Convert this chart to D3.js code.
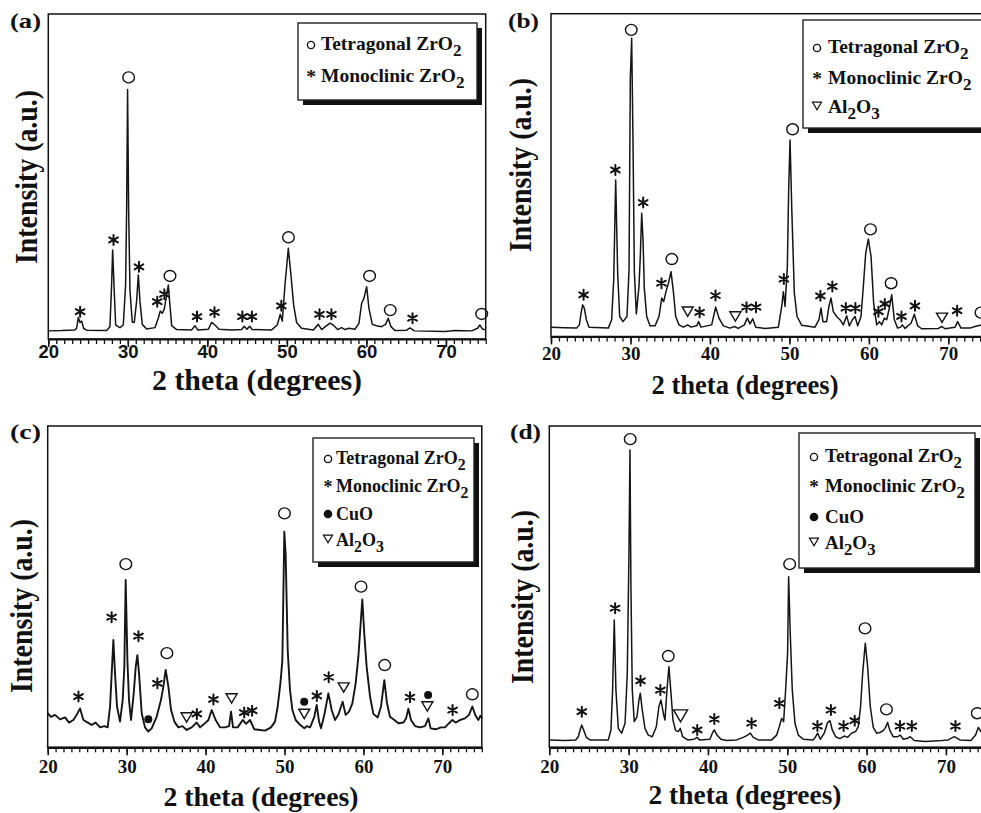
<!DOCTYPE html>
<html>
<head>
<meta charset="utf-8">
<script src="https://cdn.jsdelivr.net/npm/d3@7"></script>
<style>
  body { margin: 0; background: #fff; }
  svg { display: block; overflow: hidden; }
  text { font-family: "Liberation Serif", "Times New Roman", serif; font-weight: bold; fill: #111; }
</style>
</head>
<body>
<div id="chart"></div>
<script>
// x ticks (2 theta, degrees)
var majorTicks = [20, 30, 40, 50, 60, 70];
var minorTicks = [20,21,22,23,24,25,26,27,28,29,30,31,32,33,34,35,36,37,38,39,40,41,42,43,44,45,
                  46,47,48,49,50,51,52,53,54,55,56,57,58,59,60,61,62,63,64,65,66,67,68,69,70,71,72,73,74,75];

// patterns: [2theta, intensity (% of plot height)]
var curveA = [[20.0,2.5],[21.7,2.6],[23.35,2.8],[23.56,3.3],[23.77,6.6],[23.98,5.1],[24.19,5.5],[24.44,3.3],[24.82,2.7],
  [27.33,2.6],[27.75,3.8],[27.96,16.6],[28.09,27.4],[28.26,16.6],[28.47,4.3],[29.01,3.5],[29.43,4.3],[29.72,16.6],
  [29.85,40],[29.97,76.8],[30.1,40],[30.27,15],[30.56,5.2],[30.81,5.1],[31.1,11.5],[31.32,19.7],[31.53,11.5],[31.82,4.5],
  [32.36,3.1],[33.41,3.5],[33.83,6.4],[34.08,8.6],[34.33,7.9],[34.58,9.2],[34.88,13.5],[35.09,16.6],[35.26,11.5],[35.51,4.1],
  [36.14,2.9],[38.02,2.8],[38.44,4.1],[38.78,2.8],[40.12,3.0],[40.54,5.1],[40.96,4.3],[41.46,3.0],[43.05,2.8],[44.31,2.9],
  [44.64,3.9],[44.98,3.0],[45.31,3.9],[45.65,2.9],[48.08,2.8],[48.79,4.3],[49.17,7.6],[49.42,5.5],[49.76,16.6],[50.18,27.9],
  [50.51,19.7],[50.85,10.5],[51.22,5.1],[51.85,3.3],[53.32,2.8],[53.95,4.5],[54.37,2.9],[55.0,4.1],[55.42,4.9],[55.83,4.3],
  [56.38,2.9],[56.88,3.5],[57.3,2.9],[57.8,3.3],[58.55,3.0],[59.06,4.8],[59.4,11],[59.69,12.5],[60.03,16.1],[60.32,9.4],
  [60.74,4.5],[61.28,4.1],[61.91,3.8],[62.41,4.5],[62.75,6.4],[63.09,3.8],[63.59,2.6],[65.06,2.7],[65.48,3.4],[66.03,2.5],
  [69.9,2.3],[71.13,2.6],[73.23,2.5],[73.98,3.3],[74.27,4.3],[74.57,3.1],[75.0,2.8]];

var curveB = [[20.0,2.9],[21.76,2.7],[23.23,2.6],[23.57,3.6],[23.78,7.2],[23.98,9.8],[24.19,8.8],[24.45,5.2],[24.78,2.9],
  [27.21,2.6],[27.63,5.2],[27.89,17.5],[28.14,48.5],[28.39,19.6],[28.64,6.2],[29.06,4.6],[29.56,6.2],[29.82,20.6],
  [29.98,80],[30.15,92.4],[30.32,60],[30.49,20],[30.74,7],[31.07,15.5],[31.24,25],[31.41,38.2],[31.58,30],[31.74,15],
  [32.04,6.2],[32.46,3.3],[33.09,3.3],[33.59,6.2],[33.93,11.9],[34.18,10.8],[34.47,13.9],[34.77,16.5],[35.1,20.1],
  [35.4,13.9],[35.69,6.2],[36.11,3.6],[36.65,2.9],[37.2,3.6],[37.62,2.9],[38.33,3.3],[38.58,4.6],[38.88,2.9],[40.22,3.6],
  [40.72,9.1],[41.14,5.7],[41.69,3.3],[42.53,2.6],[43.07,3.1],[43.57,2.5],[44.33,3.6],[44.71,5.7],[45.04,3.9],[45.38,5.5],
  [45.76,2.9],[46.93,2.5],[48.61,2.9],[49.03,9.3],[49.24,13.9],[49.45,9.3],[49.74,21.7],[49.9,45],[50.08,60.9],[50.29,40],
  [50.62,13.4],[50.96,6.2],[51.54,3.5],[53.22,2.9],[53.72,5.2],[53.97,8.8],[54.22,4.6],[54.68,4.6],[54.97,9.3],[55.23,11.9],
  [55.52,7.7],[55.94,6.2],[56.36,5.2],[56.78,3.6],[57.21,6.4],[57.54,3.3],[57.92,5.2],[58.26,6.2],[58.59,3.3],[59.01,6.2],
  [59.3,15.5],[59.6,25.8],[59.93,30.2],[60.27,24.8],[60.6,10.3],[60.98,3.6],[61.32,4.6],[61.61,3.6],[61.95,5.7],[62.24,5.2],
  [62.53,8.3],[62.87,12.9],[63.2,5.2],[63.62,2.6],[64.0,2.9],[64.21,3.6],[64.55,2.5],[65.3,4.1],[65.72,6.9],[66.14,3.3],
  [66.64,2.4],[68.74,2.5],[69.16,3.1],[69.58,2.4],[70.84,2.9],[71.17,4.6],[71.59,2.6],[72.72,2.6],[73.36,3.1],[73.99,3.5],
  [75.0,3.9]];

var curveC = [[20.0,10.6],[20.42,9.5],[20.93,10.1],[21.56,8.7],[22.2,9.3],[22.7,7.7],[23.25,8.5],[23.67,10.1],[24.1,12.1],
  [24.52,8.5],[25.07,7.7],[25.57,7.0],[26.08,7.7],[26.63,6.2],[27.18,6.6],[27.6,6.2],[27.9,12.7],[28.11,23],[28.32,33.4],
  [28.53,23],[28.78,12.7],[29.16,8.0],[29.5,14.7],[29.71,25],[29.88,52.1],[30.1,27],[30.3,14.7],[30.56,8.5],[30.9,16.8],
  [31.15,25],[31.36,28.7],[31.57,23],[31.91,10.6],[32.33,6.2],[32.75,4.9],[33.17,5.9],[33.8,9.5],[34.35,14.7],[34.65,18.9],
  [34.95,24.1],[35.29,18.9],[35.63,11.6],[36.05,8.0],[36.55,6.2],[37.06,6.6],[37.61,5.4],[38.24,6.2],[38.88,7.7],[39.3,6.2],
  [39.85,7.3],[40.36,8.5],[40.78,11.6],[41.28,8.5],[41.84,6.2],[42.47,6.2],[42.98,6.6],[43.23,11.1],[43.48,6.2],[44.07,6.2],
  [44.71,8.5],[45.13,7.3],[45.63,8.5],[46.18,5.6],[46.9,5.4],[47.53,5.2],[48.29,6.2],[48.8,8.0],[49.14,12.7],[49.48,19.9],
  [49.73,27],[49.98,67.1],[50.15,60],[50.41,30],[50.7,17.8],[51.0,11.6],[51.42,8.5],[51.97,7.0],[52.52,5.9],[52.81,6.6],
  [53.24,6.2],[53.78,9.5],[54.08,13.2],[54.38,8.0],[54.63,5.9],[55.05,10.1],[55.56,16.8],[55.98,11.6],[56.4,8.5],[56.82,10.1],
  [57.37,14.2],[57.75,10.1],[58.18,11.1],[58.6,13.7],[59.02,19.9],[59.36,28.2],[59.86,46],[60.12,35],[60.41,25.1],[60.84,15.8],
  [61.26,10.4],[61.81,9.3],[62.23,12.7],[62.65,20.9],[62.99,13.7],[63.37,9.5],[63.92,8.5],[64.43,7.5],[65.07,7.7],[65.4,9.0],
  [65.7,12.0],[66.03,8.5],[66.54,6.6],[67.17,6.2],[67.8,6.6],[68.23,9.0],[68.52,5.9],[69.16,5.6],[69.83,6.2],[70.34,6.2],
  [70.85,7.5],[71.27,8.5],[71.69,7.7],[72.24,8.5],[72.87,9.0],[73.38,10.1],[73.8,12.7],[74.22,9.8],[74.56,8.5],[74.81,9.8],
  [75.06,9.0]];

var curveD = [[20.0,2.3],[21.97,2.1],[23.32,2.3],[23.66,3.3],[23.91,5.6],[24.08,6.9],[24.33,5.4],[24.66,3.1],[25.13,2.3],
  [27.44,2.3],[27.77,5.4],[27.98,17.8],[28.19,39.6],[28.4,17.8],[28.7,5.9],[29.12,4.4],[29.55,7.5],[29.83,23],[30.04,60],
  [30.17,92.5],[30.29,50],[30.46,17.8],[30.71,8.0],[31.05,9.5],[31.3,14.7],[31.47,16.8],[31.72,11.6],[32.06,5.9],[32.48,3.8],
  [32.98,3.3],[33.49,6.4],[33.82,12.7],[34.08,14.7],[34.37,10.6],[34.58,8.5],[34.83,17.8],[35.08,25.1],[35.34,16.8],
  [35.59,8.5],[35.92,5.2],[36.26,4.9],[36.51,5.9],[36.81,3.3],[37.44,2.3],[38.28,2.5],[38.61,3.1],[38.95,2.3],[40.25,2.5],
  [40.55,4.4],[40.8,5.4],[41.13,3.8],[41.64,2.5],[42.35,2.1],[43.61,2.3],[44.45,3.1],[45.0,3.8],[45.34,4.4],[45.71,3.1],
  [46.34,2.3],[48.03,2.3],[48.66,3.8],[48.99,6.4],[49.29,9.0],[49.54,8.0],[49.79,17.8],[50.04,29.3],[50.17,53.1],[50.38,35],
  [50.63,17.8],[50.97,7.5],[51.39,3.8],[52.02,2.5],[53.28,2.3],[53.57,3.3],[53.82,4.4],[54.16,2.5],[54.66,4.4],[55.08,7.7],
  [55.38,8.3],[55.67,5.4],[56.09,3.3],[56.64,2.7],[57.18,3.5],[57.61,3.1],[58.11,4.4],[58.61,4.9],[58.95,6.4],[59.24,12.7],
  [59.5,23],[59.83,32.4],[60.13,25.1],[60.46,12.7],[60.84,6.2],[61.26,4.4],[61.68,4.6],[62.1,5.2],[62.39,6.2],[62.65,7.7],
  [62.94,5.2],[63.36,3.3],[63.91,3.3],[64.24,3.8],[64.62,2.5],[65.17,2.8],[65.5,3.3],[66.01,2.1],[67.35,1.8],[69.03,2.0],
  [70.29,2.3],[71.05,3.3],[71.76,2.3],[73.15,2.1],[73.74,3.8],[74.08,6.2],[74.41,4.9],[74.92,3.8]];

// phase marks: [2theta, height, phase]  t = tetragonal, m = monoclinic, c = CuO, a = Al2O3
var marksA = [[24.0,8.4,"m"],[28.2,30.5,"m"],[30.1,80.5,"t"],[31.4,22.2,"m"],[33.7,11.5,"m"],[34.6,13.8,"m"],[35.3,19.4,"t"],
  [38.7,6.9,"m"],[40.9,8.2,"m"],[44.4,6.9,"m"],[45.6,6.9,"m"],[49.3,10.2,"m"],[50.2,31.3,"t"],[54.1,7.6,"m"],[55.6,7.6,"m"],
  [60.4,19.4,"t"],[63.0,8.9,"t"],[65.8,6.4,"m"],[74.5,7.7,"t"]];
var marksB = [[24.1,12.9,"m"],[28.1,51.6,"m"],[30.1,95,"t"],[31.6,41.5,"m"],[33.9,16.5,"m"],[35.2,24,"t"],[37.2,7.7,"a"],
  [38.7,7.5,"m"],[40.7,12.7,"m"],[43.2,6.2,"a"],[44.6,9.1,"m"],[45.8,9.1,"m"],[49.3,17.8,"m"],[50.4,64.2,"t"],[53.9,12.6,"m"],
  [55.4,15.5,"m"],[57.1,8.8,"m"],[58.3,8.8,"m"],[60.2,33.2,"t"],[61.2,7.7,"m"],[62.0,10.1,"m"],[62.8,16.5,"t"],[64.1,6.2,"m"],
  [65.8,9.5,"m"],[69.2,5.8,"a"],[71.1,8.0,"m"],[74.1,7.4,"t"]];
var marksC = [[23.9,15.8,"m"],[28.1,40.5,"m"],[29.9,57,"t"],[31.5,34.6,"m"],[32.75,8.7,"c"],[33.9,19.9,"m"],[35.1,29.3,"t"],
  [37.6,9.3,"a"],[38.9,10.4,"m"],[41.0,14.9,"m"],[43.3,15.2,"a"],[44.9,10.8,"m"],[45.9,11.4,"m"],[50.0,72.8,"t"],[52.5,14.2,"c"],
  [52.5,10.4,"a"],[54.1,16,"m"],[55.6,21.8,"m"],[57.5,18.6,"a"],[59.7,50,"t"],[62.7,25.6,"t"],[65.9,15.6,"m"],[68.2,16.3,"c"],
  [68.1,12.7,"a"],[71.3,11.6,"m"],[73.8,16.5,"t"]];
var marksD = [[24.1,11.1,"m"],[28.3,43.3,"m"],[30.2,95.9,"t"],[31.5,20.7,"m"],[34.0,17.8,"m"],[35.0,28.4,"t"],[36.55,9.8,"a"],
  [38.65,5.4,"m"],[40.8,8.8,"m"],[45.5,7.5,"m"],[49.0,13.7,"m"],[50.3,57,"t"],[53.8,6.6,"m"],[55.5,11.6,"m"],[57.1,6.6,"m"],
  [58.5,8.3,"m"],[59.8,37,"t"],[62.5,11.8,"t"],[64.2,6.6,"m"],[65.7,6.6,"m"],[71.2,6.6,"m"],[73.95,10.6,"t"]];

// legend entries ("_" marks a subscript digit)
var legendTM = [["t","Tetragonal ZrO_2"],["m","Monoclinic ZrO_2"]];
var legendTMA = [["t","Tetragonal ZrO_2"],["m","Monoclinic ZrO_2"],["a","Al_2O_3"]];
var legendTMCA = [["t","Tetragonal ZrO_2"],["m","Monoclinic ZrO_2"],["c","CuO"],["a","Al_2O_3"]];

var serif = '"Liberation Serif", "Times New Roman", serif';
var sans = '"Liberation Sans", Arial, sans-serif';

// layout of the four panels
var panels = [
  {label: "(a)", curve: curveA, marks: marksA, legend: legendTM,
   x0: 48.3, x1: 485.7, top: 14, bottom: 339, tickFont: sans, tickSize: 18.5, tickBase: 358,
   labelPos: [10, 28], yTitle: [37, 177], xTitle: [257, 390, 29, 210],
   box: [298, 23, 179, 77], symX: 311, textX: 321, rows: [50, 82], lsize: 19.5, triW: 11, stroke: 1.5},
  {label: "(b)", curve: curveB, marks: marksB, legend: legendTMA,
   x0: 551, x1: 988.1, top: 13.7, bottom: 336.5, tickFont: serif, tickSize: 19, tickBase: 360,
   labelPos: [508, 28], yTitle: [531, 165], xTitle: [745, 394, 27, 187],
   box: [803, 20, 186, 108], symX: 817, textX: 828, rows: [53, 84, 113], lsize: 19.5, triW: 11, stroke: 1.5},
  {label: "(c)", curve: curveC, marks: marksC, legend: legendTMCA,
   x0: 47.7, x1: 481.8, top: 426, bottom: 747.3, tickFont: serif, tickSize: 19, tickBase: 773,
   labelPos: [10, 439], yTitle: [32, 606], xTitle: [261, 806, 28, 195],
   box: [313, 438, 161, 124], symX: 328, textX: 336, rows: [464, 492, 520, 546], lsize: 18, triW: 11, stroke: 1.9},
  {label: "(d)", curve: curveD, marks: marksD, legend: legendTMCA,
   x0: 549.3, x1: 985.6, top: 426, bottom: 747.3, tickFont: serif, tickSize: 19, tickBase: 773,
   labelPos: [510, 439], yTitle: [533, 597], xTitle: [745, 804, 27.5, 193],
   box: [799, 433, 176, 135], symX: 814, textX: 825, rows: [462, 492, 523, 549], lsize: 19, triW: 14, stroke: 1.5}
];

var svg = d3.select("#chart").append("svg")
    .attr("width", 981)
    .attr("height", 813);
svg.append("rect").attr("width", 981).attr("height", 813).attr("fill", "#fff");

// 6-armed asterisk
function starPath(r) {
  var p = "";
  [90, 30, -30].forEach(function(a) {
    var dx = r * Math.cos(a * Math.PI / 180), dy = r * Math.sin(a * Math.PI / 180);
    p += "M" + (-dx) + "," + (-dy) + "L" + dx + "," + dy;
  });
  return p;
}
function triPath(w) {
  var h = w * 0.85;
  return "M" + (-w / 2) + "," + (-h / 2) + "L" + (w / 2) + "," + (-h / 2) + "L0," + (h / 2) + "Z";
}

function drawMark(g, type, cx, cy, triW) {
  if (type === "t") {
    g.append("ellipse").attr("cx", cx).attr("cy", cy).attr("rx", 5.8).attr("ry", 5.5)
      .attr("fill", "none").attr("stroke", "#111").attr("stroke-width", 1.4);
  } else if (type === "m") {
    g.append("path").attr("transform", "translate(" + cx + "," + cy + ")")
      .attr("d", starPath(5)).attr("stroke", "#111").attr("stroke-width", 2).attr("stroke-linecap", "round");
  } else if (type === "c") {
    g.append("circle").attr("cx", cx).attr("cy", cy).attr("r", 4).attr("fill", "#111");
  } else if (type === "a") {
    g.append("path").attr("transform", "translate(" + cx + "," + cy + ")")
      .attr("d", triPath(triW)).attr("fill", "none").attr("stroke", "#111").attr("stroke-width", 1.4);
  }
}

function addRich(t, str, size) {
  var sub = false;
  str.split(/(_\d)/).filter(function(s) { return s.length; }).forEach(function(part) {
    if (part[0] === "_") {
      t.append("tspan").attr("dy", 6).style("font-size", (size * 0.88) + "px").text(part.slice(1));
      sub = true;
    } else {
      t.append("tspan").attr("dy", sub ? -6 : 0).text(part);
      sub = false;
    }
  });
}

panels.forEach(function(p) {
  var x = d3.scaleLinear().domain([20, 75]).range([p.x0, p.x1]);
  var y = d3.scaleLinear().domain([0, 100]).range([p.bottom, p.top]);
  var g = svg.append("g");

  // frame
  g.append("rect")
    .attr("x", p.x0).attr("y", p.top)
    .attr("width", p.x1 - p.x0).attr("height", p.bottom - p.top)
    .attr("fill", "none").attr("stroke", "#111").attr("stroke-width", 1.5);

  // pattern
  var line = d3.line().x(function(d) { return x(d[0]); }).y(function(d) { return y(d[1]); });
  g.append("path").datum(p.curve)
    .attr("d", line)
    .attr("fill", "none").attr("stroke", "#151515")
    .attr("stroke-width", p.stroke).attr("stroke-linejoin", "round");

  // bottom axis: minor and major ticks pointing down
  var minor = g.append("g").attr("transform", "translate(0," + p.bottom + ")")
    .call(d3.axisBottom(x).tickValues(minorTicks).tickSize(5).tickSizeOuter(0).tickFormat(""));
  minor.select(".domain").remove();
  minor.selectAll("line").attr("stroke", "#111").attr("stroke-width", 1.3);

  var major = g.append("g").attr("transform", "translate(0," + p.bottom + ")")
    .call(d3.axisBottom(x).tickValues(majorTicks).tickSize(8).tickSizeOuter(0).tickFormat(d3.format("d")));
  major.select(".domain").attr("stroke", "#111").attr("stroke-width", 2.2);
  major.selectAll("line").attr("stroke", "#111").attr("stroke-width", 1.6);
  major.selectAll("text")
    .attr("y", p.tickBase - p.bottom).attr("dy", 0)
    .style("font-family", p.tickFont).style("font-size", p.tickSize + "px")
    .style("font-weight", "bold").attr("fill", "#111");

  // phase marks
  p.marks.forEach(function(m) { drawMark(g, m[2], x(m[0]), y(m[1]), p.triW); });

  // titles
  g.append("text")
    .attr("x", p.labelPos[0]).attr("y", p.labelPos[1])
    .attr("textLength", 31).attr("lengthAdjust", "spacingAndGlyphs")
    .style("font-size", "21px").text(p.label);

  g.append("text")
    .attr("transform", "translate(" + p.yTitle[0] + "," + p.yTitle[1] + ") rotate(-90)")
    .attr("text-anchor", "middle")
    .attr("textLength", 174).attr("lengthAdjust", "spacingAndGlyphs")
    .style("font-size", "31px").text("Intensity (a.u.)");

  g.append("text")
    .attr("x", p.xTitle[0]).attr("y", p.xTitle[1])
    .attr("text-anchor", "middle")
    .attr("textLength", p.xTitle[3]).attr("lengthAdjust", "spacingAndGlyphs")
    .style("font-size", p.xTitle[2] + "px").text("2 theta (degrees)");

  // legend box with drop shadow
  var b = p.box;
  g.append("rect").attr("x", b[0] + 5).attr("y", b[1] + 5).attr("width", b[2]).attr("height", b[3]).attr("fill", "#111");
  g.append("rect").attr("x", b[0]).attr("y", b[1]).attr("width", b[2]).attr("height", b[3])
    .attr("fill", "#fff").attr("stroke", "#222").attr("stroke-width", 1.4);

  p.legend.forEach(function(item, i) {
    var by = p.rows[i];
    if (item[0] === "t") {
      g.append("circle").attr("cx", p.symX).attr("cy", by - 5).attr("r", 3.6)
        .attr("fill", "none").attr("stroke", "#111").attr("stroke-width", 1.4);
    } else if (item[0] === "m") {
      g.append("text").attr("x", p.symX).attr("y", by + 1).attr("text-anchor", "middle")
        .style("font-size", p.lsize + "px").text("*");
    } else if (item[0] === "c") {
      g.append("circle").attr("cx", p.symX).attr("cy", by - 6).attr("r", 4.3).attr("fill", "#111");
    } else if (item[0] === "a") {
      g.append("path").attr("transform", "translate(" + p.symX + "," + (by - 7) + ")")
        .attr("d", triPath(9)).attr("fill", "none").attr("stroke", "#111").attr("stroke-width", 1.2);
    }
    var t = g.append("text").attr("x", p.textX).attr("y", by).style("font-size", p.lsize + "px");
    addRich(t, item[1], p.lsize);
  });
});
</script>
</body>
</html>
